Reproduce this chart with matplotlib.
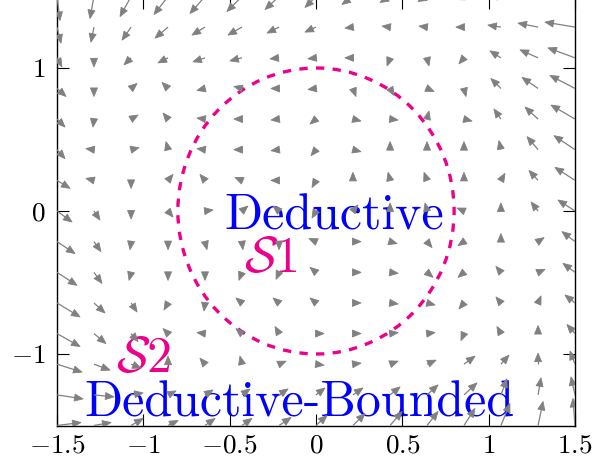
import numpy as np
import matplotlib
matplotlib.use("Agg")
import matplotlib.pyplot as plt
from matplotlib.patches import Ellipse
from matplotlib.collections import LineCollection, PolyCollection
from matplotlib.transforms import IdentityTransform

plt.rcParams["mathtext.fontset"] = "cm"
plt.rcParams["font.family"] = ["cmr10", "DejaVu Serif"]

# ---------------------------------------------------------------
# data: quiver grid (15 x 15) and vectors
# U, V rows go from y = -1.5 (bottom) to y = 1.5 (top)
# ---------------------------------------------------------------
GRID = [-1.5, -1.286, -1.071, -0.857, -0.643, -0.429, -0.214, 0.0,
        0.214, 0.429, 0.643, 0.857, 1.071, 1.286, 1.5]

U = [
    [24, 17, 12, 10, 10, 10, 12, 11, 12, 12, 11, 11, 9, 5, -2],
    [26, 20, 12, 8, 8, 8, 9, 9, 10, 10, 11, 13, 6, 3, -4],
    [25, 16, 10, 0, -5, -2, 7, 8, 8, 8, 9, 11, 8, 0, -5],
    [23, 12, 7, -5, -8, -6, -4, 8, 8, 8, 8, -3, -4, 0, -8],
    [23, 11, 6, -4, -1, -6, -6, -6, 8, 8, 8, -5, -5, 3, -10],
    [20, 8, -2, 0, 0, -3, -3, -6, 8, 8, 6, -6, -5, 7, -12],
    [18, 7, -1, 0, 2, 1, 0, -7, 8, 7, 5, -6, 0, 6, -13],
    [15, 6, 0, 5, 8, 6, -6, -4, 5, 0, -2, -7, 0, -7, -17],
    [13, -8, 0, 5, -5, -7, -8, -4, 0, -2, -3, 0, 4, -9, -20],
    [8, -8, 8, -2, -8, -8, -8, -5, 8, 0, 0, 0, -2, -11, -21],
    [8, -1, 7, -5, -8, -8, -8, -6, 8, 8, 2, 8, -7, -13, -24],
    [9, 0, 6, -6, -8, -8, -8, -8, 3, 4, 7, 2, -10, -16, -25],
    [5, 0, -7, -10, -12, -12, -9, -8, -8, -3, 2, -5, -11, -18, -27],
    [4, -3, -9, -13, -13, -14, -12, -11, -8, -8, -8, -8, -13, -20, -30],
    [3, -4, -11, -14, -15, -15, -14, -11, -11, -10, -9, -8, -12, -18, -28],
]

V = [
    [3, 3, 7, 5, 7, 7, 8, 10, 12, 14, 14, 17, 22, 24, 27],
    [-4, -2, 2, 4, 5, 6, 6, 7, 7, 8, 10, 12, 16, 17, 18],
    [-8, -6, -4, 8, 6, 8, 3, -1, 1, 3, 4, 8, 9, 11, 13],
    [-13, -10, -8, 5, 1, 5, 7, 0, 0, 1, 1, -7, 7, 8, 9],
    [-14, -10, -9, -7, -8, 5, 5, 5, 0, -1, -2, -6, 6, 7, 8],
    [-13, -11, -8, -8, -8, -8, -7, 5, 0, -1, -5, -5, 6, 3, 9],
    [-12, -10, -8, -8, -8, -8, -8, 3, 0, -2, -6, -4, 8, 4, 10],
    [-11, -9, -8, -6, 1, 5, 5, -7, 6, 8, 8, 3, 8, 9, 11],
    [-8, 2, -8, 6, 6, 3, 0, -7, 8, 8, 8, 8, 7, 10, 13],
    [-9, 1, 2, 8, 1, 0, -1, -6, -2, 8, 8, 8, 9, 13, 14],
    [-8, -8, 4, 6, 1, 0, -1, -5, -2, -1, 8, -2, 10, 12, 14],
    [-8, -8, 5, 6, -2, 2, 0, -1, -8, -7, -3, -8, 10, 11, 13],
    [-9, -9, -7, -5, -4, -3, -1, -1, 0, -8, -8, -6, 7, 8, 10],
    [-16, -15, -13, -11, -8, -8, -6, -5, -1, 1, 1, 0, 2, 4, 5],
    [-24, -22, -20, -18, -17, -15, -13, -11, -8, -6, -5, -3, 0, 2, 4],
]

X_TICKS = [-1.5, -1, -0.5, 0, 0.5, 1, 1.5]
X_TICK_LABELS = ["$-1.5$", "$-1$", "$-0.5$", "$0$", "$0.5$", "$1$", "$1.5$"]
Y_TICKS = [-1, 0, 1]
Y_TICK_LABELS = ["$-1$", "$0$", "$1$"]

# region boundary (dashed ellipse)
ELLIPSE_CENTER = (0.0, 0.0)
ELLIPSE_RX = 0.8
ELLIPSE_RY = 1.0

# labels: (text, x, y, colour)
LABELS = [
    ("Deductive", 0.104, -0.128, "#0000FF"),
    (r"$\mathcal{S}1$", -0.26, -0.43, "#EC008C"),
    (r"$\mathcal{S}2$", -1.0, -1.124, "#EC008C"),
    ("Deductive-Bounded", -0.098, -1.438, "#0000FF"),
]

# ---------------------------------------------------------------
# figure
# ---------------------------------------------------------------
DPI = 200
fig = plt.figure(figsize=(594 / DPI, 467 / DPI), dpi=DPI)
ax = fig.add_axes([57 / 594, 41.5 / 467, 518 / 594, 429 / 467])
ax.set_xlim(-1.5, 1.5)
ax.set_ylim(-1.5, 1.5)
ax.set_autoscale_on(False)

for s in ax.spines.values():
    s.set_linewidth(0.5)
ax.set_xticks(X_TICKS)
ax.set_xticklabels(X_TICK_LABELS)
ax.set_yticks(Y_TICKS)
ax.set_yticklabels(Y_TICK_LABELS)
ax.tick_params(direction="in", length=4.25, width=0.4, top=True, right=True,
               labelsize=9.8)
ax.tick_params(axis="x", pad=3.0)
ax.tick_params(axis="y", pad=4.0)

# labels (drawn under the arrows)
for txt, lx, ly, col in LABELS:
    ax.text(lx, ly, txt, color=col, fontsize=18, ha="center",
            va="baseline", zorder=1)

# dashed ellipse
ell = Ellipse(ELLIPSE_CENTER, 2 * ELLIPSE_RX, 2 * ELLIPSE_RY, fill=False,
              edgecolor="#EC008C", linewidth=1.2, zorder=2)
ell.set_linestyle((0, (2.5, 2.5)))
ax.add_patch(ell)

# quiver with fixed-size arrow heads (drawn in pixel space)
HEAD_LEN = 8.5
HEAD_W = 7.0
shafts, heads = [], []
for j, yv in enumerate(GRID):
    for i, xv in enumerate(GRID):
        x0, y0 = ax.transData.transform((xv, yv))
        dx, dy = float(U[j][i]), float(V[j][i])
        L = np.hypot(dx, dy)
        if L == 0:
            continue
        ux, uy = dx / L, dy / L
        tx, ty = x0 + dx, y0 + dy
        bx, by = tx - HEAD_LEN * ux, ty - HEAD_LEN * uy
        if L > HEAD_LEN:
            shafts.append([(x0, y0), (bx + 1.5 * ux, by + 1.5 * uy)])
        px, py = -uy * HEAD_W / 2, ux * HEAD_W / 2
        heads.append([(tx, ty), (bx + px, by + py), (bx - px, by - py)])

lc = LineCollection(shafts, colors="#808080", linewidths=0.45,
                    transform=IdentityTransform(), zorder=3)
pc = PolyCollection(heads, facecolors="#808080", edgecolors="#808080",
                    linewidths=0.3, transform=IdentityTransform(), zorder=3)
ax.add_collection(lc, autolim=False)
ax.add_collection(pc, autolim=False)
lc.set_clip_path(ax.patch)
pc.set_clip_path(ax.patch)

fig.savefig("out.png", dpi=DPI)
